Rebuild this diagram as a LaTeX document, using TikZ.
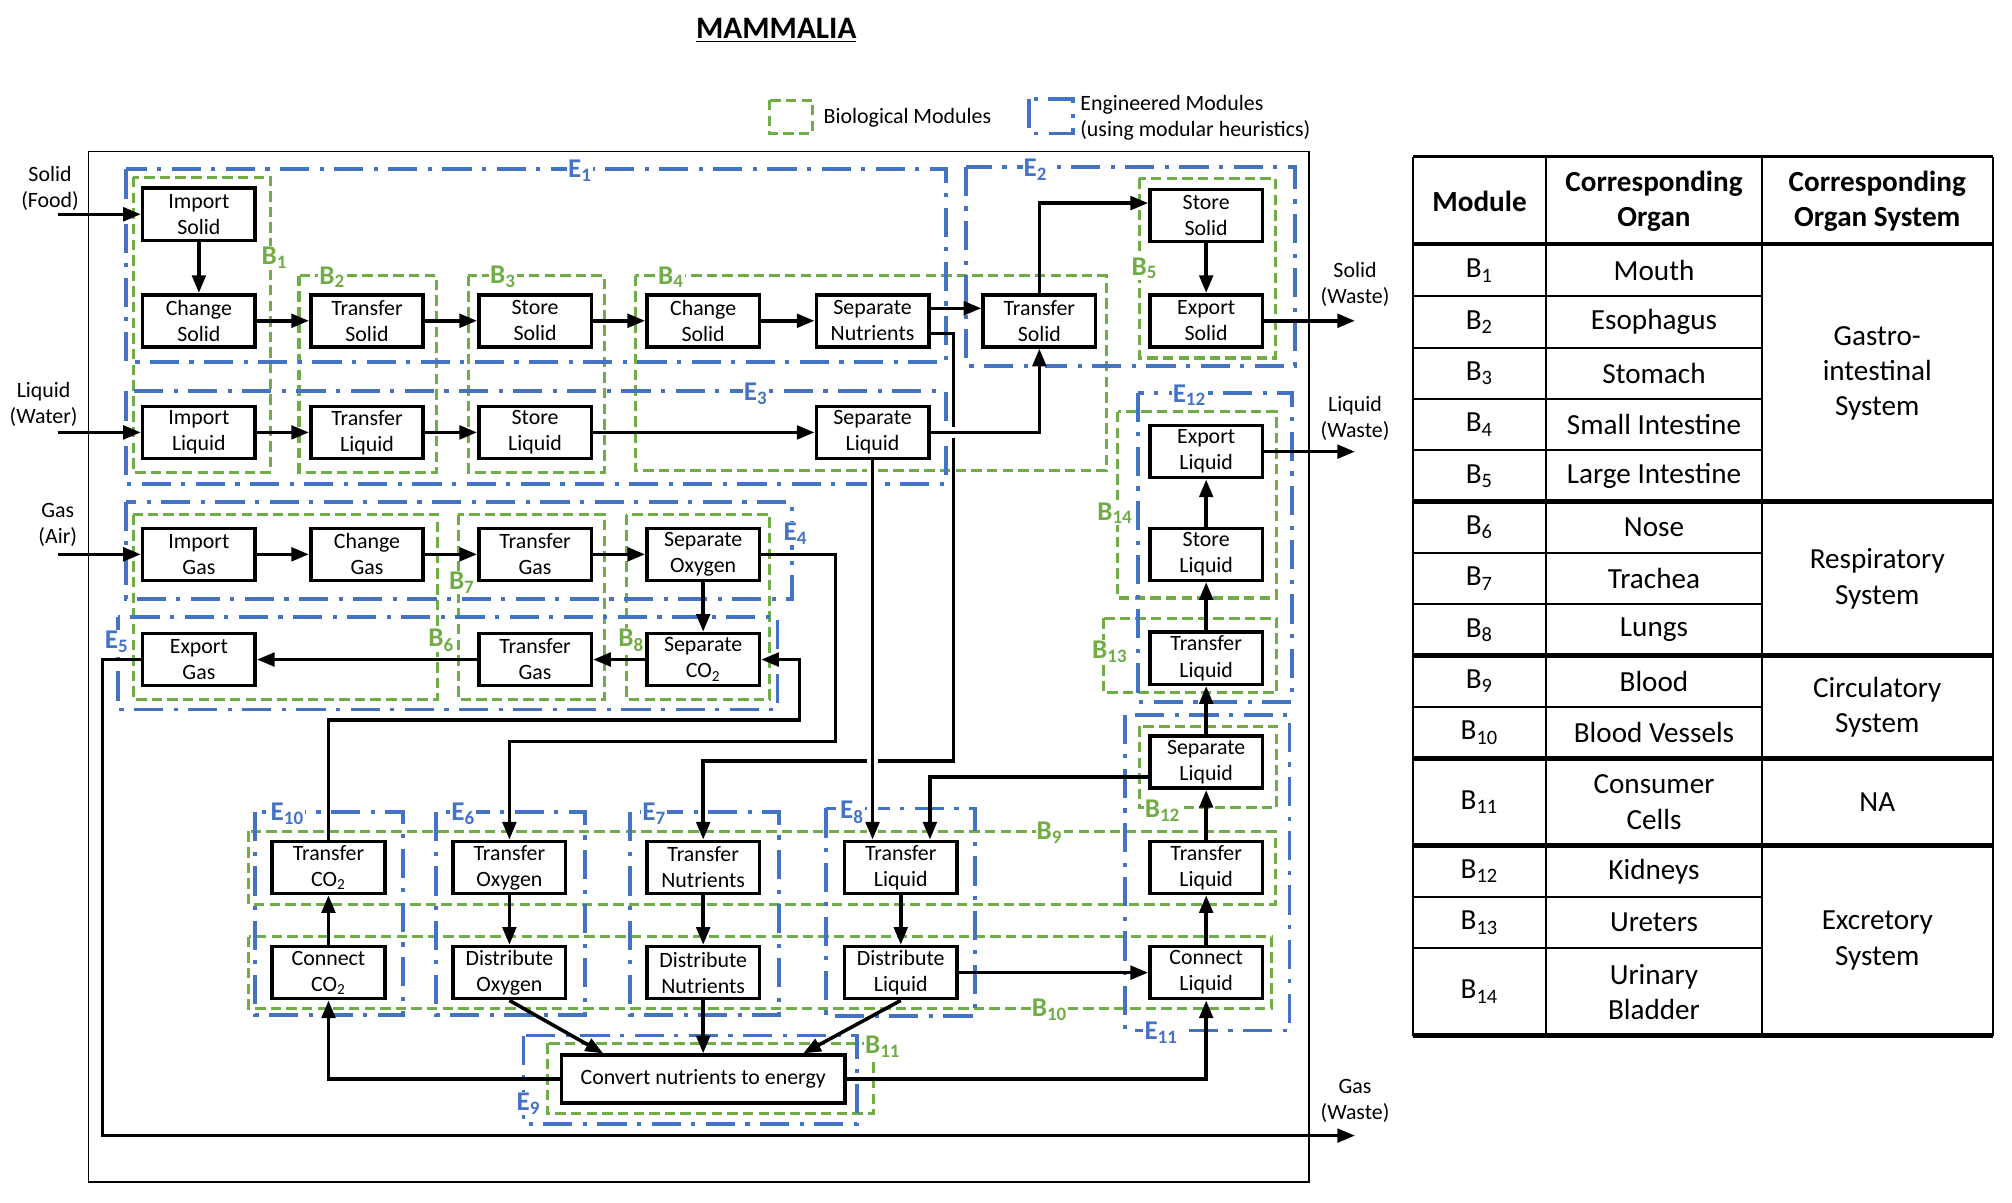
\documentclass[tikz,border=0pt]{standalone}
\usepackage{fontspec}
\setmainfont{Carlito}
\usetikzlibrary{arrows.meta,positioning,calc}
\definecolor{BioGreen}{HTML}{70AD47}
\definecolor{EngBlue}{HTML}{4472C4}
\pgfdeclarelayer{frames}
\pgfdeclarelayer{wires}
\pgfsetlayers{frames,wires,main}
\tikzset{
  >={Triangle[length=8.5pt,width=6.5pt]},
  fn/.style={draw,line width=1.7pt,fill=white,minimum width=54pt,minimum height=25pt,inner sep=1pt,align=center,font=\fontsize{10.5}{12.5}\selectfont},
  flow/.style={->,line width=1.7pt},
  hop/.style={preaction={draw=white,line width=5pt,arrows=-}},
  bio/.style={draw=BioGreen,line width=1.5pt,dash pattern=on 5pt off 2.5pt},
  eng/.style={draw=EngBlue,line width=1.8pt,dash pattern=on 14pt off 5pt on 2pt off 5pt},
  blab/.style={text=BioGreen,fill=white,inner sep=.5pt,font=\fontsize{13}{15}\selectfont\bfseries},
  elab/.style={blab,text=EngBlue},
  io/.style={align=center,font=\fontsize{10.5}{12.5}\selectfont,inner sep=1pt},
  cell/.style={align=center,font=\fontsize{14}{17}\selectfont,inner sep=1pt},
  head/.style={cell,font=\fontsize{14}{17}\selectfont\bfseries},
  tline/.style={line width=1pt},
  tbold/.style={line width=2.2pt}
}

\begin{document}
\begin{tikzpicture}[x=0.616pt,y=-0.616pt]
  \useasboundingbox (0,0) rectangle (1568,937);

  % title and legend
  \node[font=\fontsize{15}{18}\selectfont\bfseries] (title) at (605,24) {\underline{MAMMALIA}};
  \draw[bio] (600,78) rectangle (633,104);
  \node[io,anchor=west] (legb) at (640,92) {Biological Modules};
  \draw[eng] (802,77) rectangle (836,104);
  \node[io,anchor=west,align=left] (lege) at (840,92) {Engineered Modules\\(using modular heuristics)};

  % inputs / outputs
  \node[io] (lsolid) at (39,147) {Solid\\(Food)};
  \node[io] (lliquid) at (34,315) {Liquid\\(Water)};
  \node[io] (lgas) at (45,409) {Gas\\(Air)};
  \node[io] (wsolid) at (1056,222) {Solid\\(Waste)};
  \node[io] (wliquid) at (1056,326) {Liquid\\(Waste)};
  \node[io] (wgas) at (1056,858) {Gas\\(Waste)};
  \coordinate (inS) at (45,167);
  \coordinate (inL) at (45,337);
  \coordinate (inG) at (45,432);
  \coordinate (outS) at (1056,250);
  \coordinate (outL) at (1056,352);
  \coordinate (outG) at (1056,885);

  % function boxes
  \node[fn] (imps) at (155,167) {Import\\Solid};
  \node[fn] (chs1) at (155,250) {Change\\Solid};
  \node[fn] (trs1) at (286,250) {Transfer\\Solid};
  \node[fn] (sts1) at (417,250) {Store\\Solid};
  \node[fn] (chs2) at (548,250) {Change\\Solid};
  \node[fn] (sepn) at (680,250) {Separate\\Nutrients};
  \node[fn] (trs2) at (810,250) {Transfer\\Solid};
  \node[fn] (sts2) at (940,168) {Store\\Solid};
  \node[fn] (exps) at (940,250) {Export\\Solid};
  \node[fn] (impl) at (155,337) {Import\\Liquid};
  \node[fn] (trl1) at (286,337) {Transfer\\Liquid};
  \node[fn] (stl1) at (417,337) {Store\\Liquid};
  \node[fn] (sepl1) at (680,337) {Separate\\Liquid};
  \node[fn] (expl) at (940,352) {Export\\Liquid};
  \node[fn] (stl2) at (940,432) {Store\\Liquid};
  \node[fn] (trl3) at (940,513) {Transfer\\Liquid};
  \node[fn] (sepl2) at (940,594) {Separate\\Liquid};
  \node[fn] (trl4) at (940,676) {Transfer\\Liquid};
  \node[fn] (conl) at (940,758) {Connect\\Liquid};
  \node[fn] (impg) at (155,432) {Import\\Gas};
  \node[fn] (chg) at (286,432) {Change\\Gas};
  \node[fn] (trg1) at (417,432) {Transfer\\Gas};
  \node[fn] (sepo) at (548,432) {Separate\\Oxygen};
  \node[fn] (expg) at (155,514) {Export\\Gas};
  \node[fn] (trg2) at (417,514) {Transfer\\Gas};
  \node[fn] (sepc) at (548,514) {Separate\\CO\textsubscript{2}};
  \node[fn] (trc) at (256,676) {Transfer\\CO\textsubscript{2}};
  \node[fn] (tro) at (397,676) {Transfer\\Oxygen};
  \node[fn] (trn) at (548,676) {Transfer\\Nutrients};
  \node[fn] (trl2) at (702,676) {Transfer\\Liquid};
  \node[fn] (conc) at (256,758) {Connect\\CO\textsubscript{2}};
  \node[fn] (diso) at (397,758) {Distribute\\Oxygen};
  \node[fn] (disn) at (548,758) {Distribute\\Nutrients};
  \node[fn] (disl) at (702,758) {Distribute\\Liquid};
  \node[fn,minimum width=136pt,minimum height=23pt] (conv) at (548,841) {Convert nutrients to energy};

  \coordinate (jn) at (743,593);
  \coordinate (jo) at (651,578);
  \coordinate (jc) at (623,561);
  \coordinate (jg) at (80,885);

  % module frames
  \begin{pgfonlayer}{frames}
    \draw[line width=.8pt] (69,118) rectangle (1020,921);
    \draw[bio] (104,138) rectangle (211,368);
    \draw[bio] (233,215) rectangle (340,368);
    \draw[bio] (365,215) rectangle (471,368);
    \draw[bio] (495,215) rectangle (862,367);
    \draw[bio] (888,139) rectangle (994,279);
    \draw[bio] (104,401) rectangle (341,545);
    \draw[bio] (357,401) rectangle (471,545);
    \draw[bio] (488,401) rectangle (600,545);
    \draw[bio] (194,648) rectangle (994,705);
    \draw[bio] (194,730) rectangle (991,786);
    \draw[bio] (427,813) rectangle (681,868);
    \draw[bio] (888,566) rectangle (995,629);
    \draw[bio] (860,482) rectangle (995,540);
    \draw[bio] (871,321) rectangle (995,466);
    \draw[eng] (98,132) rectangle (737,282);
    \draw[eng] (753,130) rectangle (1009,285);
    \draw[eng] (98,305) rectangle (737,377);
    \draw[eng] (98,391) rectangle (617,467);
    \draw[eng] (92,481) rectangle (606,553);
    \draw[eng] (340,633) rectangle (456,791);
    \draw[eng] (491,633) rectangle (607,791);
    \draw[eng] (644,630) rectangle (760,792);
    \draw[eng] (408,807) rectangle (668,876);
    \draw[eng] (199,633) rectangle (314,791);
    \draw[eng] (877,557) rectangle (1005,803);
    \draw[eng] (887,306) rectangle (1007,547);
    \node[blab] (b1) at (214,201) {B\textsubscript{1}};
    \node[blab] (b2) at (259,216) {B\textsubscript{2}};
    \node[blab] (b3) at (392,216) {B\textsubscript{3}};
    \node[blab] (b4) at (523,216) {B\textsubscript{4}};
    \node[blab] (b5) at (892,209) {B\textsubscript{5}};
    \node[blab] (b6) at (344,499) {B\textsubscript{6}};
    \node[blab] (b7) at (360,454) {B\textsubscript{7}};
    \node[blab] (b8) at (492,499) {B\textsubscript{8}};
    \node[blab] (b9) at (818,649) {B\textsubscript{9}};
    \node[blab] (b10) at (818,787) {B\textsubscript{10}};
    \node[blab] (b11) at (688,816) {B\textsubscript{11}};
    \node[blab] (b12) at (906,632) {B\textsubscript{12}};
    \node[blab] (b13) at (865,508) {B\textsubscript{13}};
    \node[blab] (b14) at (869,400) {B\textsubscript{14}};
    \node[elab] (e1) at (452,133) {E\textsubscript{1}};
    \node[elab] (e2) at (807,132) {E\textsubscript{2}};
    \node[elab] (e3) at (589,307) {E\textsubscript{3}};
    \node[elab] (e4) at (620,416) {E\textsubscript{4}};
    \node[elab] (e5) at (91,500) {E\textsubscript{5}};
    \node[elab] (e6) at (361,634) {E\textsubscript{6}};
    \node[elab] (e7) at (510,634) {E\textsubscript{7}};
    \node[elab] (e8) at (664,633) {E\textsubscript{8}};
    \node[elab] (e9) at (412,860) {E\textsubscript{9}};
    \node[elab] (e10) at (224,634) {E\textsubscript{10}};
    \node[elab] (e11) at (905,805) {E\textsubscript{11}};
    \node[elab] (e12) at (927,308) {E\textsubscript{12}};
  \end{pgfonlayer}

  % flows
  \begin{pgfonlayer}{wires}
    \draw[flow] (inS) -- (imps);
    \draw[flow] (imps) -- (chs1);
    \draw[flow] (chs1) -- (trs1);
    \draw[flow] (trs1) -- (sts1);
    \draw[flow] (sts1) -- (chs2);
    \draw[flow] (chs2) -- (sepn);
    \draw[flow] ([yshift=6pt]sepn.east) -- ([yshift=6pt]trs2.west);
    \draw[flow] ([yshift=-6pt]sepn.east) -| (jn) -| (trn.north);
    \draw[flow] (trs2.north) |- ([yshift=6pt]sts2.west);
    \draw[flow] (sts2) -- (exps);
    \draw[flow] (exps) -- (outS);
    \draw[flow] (inL) -- (impl);
    \draw[flow] (impl) -- (trl1);
    \draw[flow] (trl1) -- (stl1);
    \draw[flow] (stl1) -- (sepl1);
    \draw[flow,hop] (sepl1) -| (trs2);
    \draw[flow,hop] (sepl1.south) -- (sepl1.south |- trl2.north);
    \draw[flow] ([yshift=-7pt]sepl2.west) -| ([xshift=14pt]trl2.north);
    \draw[flow] (conl) -- (trl4);
    \draw[flow] (trl4) -- (sepl2);
    \draw[flow] (sepl2) -- (trl3);
    \draw[flow] (trl3) -- (stl2);
    \draw[flow] (stl2) -- (expl);
    \draw[flow] (expl) -- (outL);
    \draw[flow] (inG) -- (impg);
    \draw[flow] (impg) -- (chg);
    \draw[flow] (chg) -- (trg1);
    \draw[flow] (trg1) -- (sepo);
    \draw[flow] (sepo) -- (sepc);
    \draw[flow] (sepc) -- (trg2);
    \draw[flow] (trg2) -- (expg);
    \draw[flow] (sepo) -| (jo) -| (tro.north);
    \draw[flow] (trc.north) |- (jc) |- (sepc.east);
    \draw[flow] (expg) -| (jg) -- (outG);
    \draw[flow] (tro) -- (diso);
    \draw[flow] (trn) -- (disn);
    \draw[flow] (trl2) -- (disl);
    \draw[flow] (conc) -- (trc);
    \draw[flow] (diso.south) -- ([xshift=-48pt]conv.north);
    \draw[flow] (disn) -- (conv);
    \draw[flow] (disl.south) -- ([xshift=48pt]conv.north);
    \draw[flow] (disl) -- (conl);
    \draw[flow] (conv) -| (conc);
    \draw[flow] (conv) -| (conl);
  \end{pgfonlayer}

  % table
  \draw[tline] (1101,122) -- (1553,122);
  \foreach \x in {1101,1205,1373,1553}
    \draw[tline] (\x,122) -- (\x,807);
  \foreach \y in {190,391,511,591,659,807}
    \draw[tbold] (1101,\y) -- (1553,\y);
  \foreach \y in {231,271,311,351,431,471,551,699,739}
    \draw[tline] (1101,\y) -- (1373,\y);
  \node[head] (hmod) at (1153,157) {Module};
  \node[head] (horg) at (1289,157) {Corresponding\\Organ};
  \node[head] (hsys) at (1463,157) {Corresponding\\Organ System};
  \foreach \i/\y/\organ in {1/211/Mouth,2/251/Esophagus,3/291/Stomach,4/331/Small Intestine,5/371/Large Intestine,6/411/Nose,7/451/Trachea,8/491/Lungs,9/531/Blood,10/571/Blood Vessels,11/625/{Consumer\\Cells},12/679/Kidneys,13/719/Ureters,14/773/{Urinary\\Bladder}}{
    \node[cell] (mod\i) at (1153,\y) {B\textsubscript{\i}};
    \node[cell] (org\i) at (1289,\y) {\organ};
  }
  \node[cell] (sys1) at (1463,291) {Gastro-\\intestinal\\System};
  \node[cell] (sys2) at (1463,451) {Respiratory\\System};
  \node[cell] (sys3) at (1463,551) {Circulatory\\System};
  \node[cell] (sys4) at (1463,625) {NA};
  \node[cell] (sys5) at (1463,733) {Excretory\\System};
\end{tikzpicture}
\end{document}
